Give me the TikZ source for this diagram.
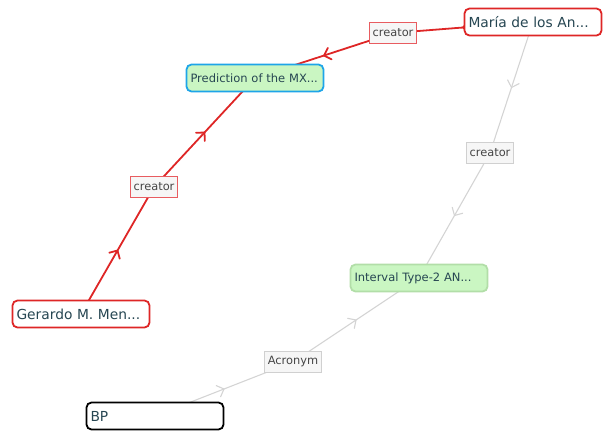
\documentclass[tikz,border=0pt]{standalone}
\usepackage{fontspec}
\setmainfont{DejaVu Sans}
\usetikzlibrary{decorations.markings, backgrounds}

\definecolor{linkred}{RGB}{222,38,38}
\definecolor{linkgrey}{RGB}{212,212,212}
\definecolor{nodetext}{RGB}{38,70,82}
\definecolor{labeltext}{RGB}{70,70,70}
\definecolor{labelfill}{RGB}{246,246,246}
\definecolor{labelred}{RGB}{232,92,96}
\definecolor{labelgrey}{RGB}{208,208,208}
\definecolor{docfill}{RGB}{202,246,194}
\definecolor{docblue}{RGB}{30,165,232}
\definecolor{docgreen}{RGB}{178,222,168}

\begin{document}
\begin{tikzpicture}[x=1pt, y=-1pt,
  item/.style={draw, rounded corners=5pt, line width=1.8pt, fill=white,
    minimum height=27pt, text width=129pt, inner sep=4pt, align=left,
    text=nodetext, font=\fontsize{13.8}{15}\selectfont},
  doc/.style={item, fill=docfill, font=\fontsize{11.5}{13}\selectfont},
  tag/.style={draw, line width=1pt, fill=labelfill, text=labeltext,
    inner xsep=3.5pt, inner ysep=3pt, minimum height=21pt,
    font=\fontsize{11.4}{13}\selectfont},
  midarrow/.style={postaction={decorate}, decoration={markings,
    mark=at position 0.5 with {\draw[line cap=round] (-6pt,6pt) -- (0pt,0pt) -- (-6pt,-6pt);}}},
  redlink/.style={linkred, line width=1.8pt, midarrow},
  greylink/.style={linkgrey, line width=1.1pt, midarrow}]
\useasboundingbox (0,0) rectangle (606,432);
% entities
\node (maria) [item, draw=linkred] at (533,22) {María de los An...};
\node (gerardo) [item, draw=linkred] at (81,314) {Gerardo M. Men...};
\node (bp) [item, draw=black] at (155,416) {BP};
\node (pred) [doc, draw=docblue] at (255,78) {Prediction of the MX...};
\node (interval) [doc, draw=docgreen] at (419,278) {Interval Type-2 AN...};
% edge labels
\node (cr1) [tag, draw=labelred] at (393,33) {creator};
\node (cr2) [tag, draw=labelred] at (154,187) {creator};
\node (cr3) [tag, draw=labelgrey] at (490,153) {creator};
\node (acr) [tag, draw=labelgrey] at (293,362) {Acronym};
% connectors
\begin{scope}[on background layer]
\draw [greylink] (maria.center) -- (cr3.center);
\draw [greylink] (cr3.center) -- (interval.center);
\draw [greylink] (bp.center) -- (acr.center);
\draw [greylink] (acr.center) -- (interval.center);
\draw [redlink] (maria.center) -- (cr1.center);
\draw [redlink] (cr1.center) -- (pred.center);
\draw [redlink] (gerardo.center) -- (cr2.center);
\draw [redlink] (cr2.center) -- (pred.center);
\end{scope}
\end{tikzpicture}
\end{document}
